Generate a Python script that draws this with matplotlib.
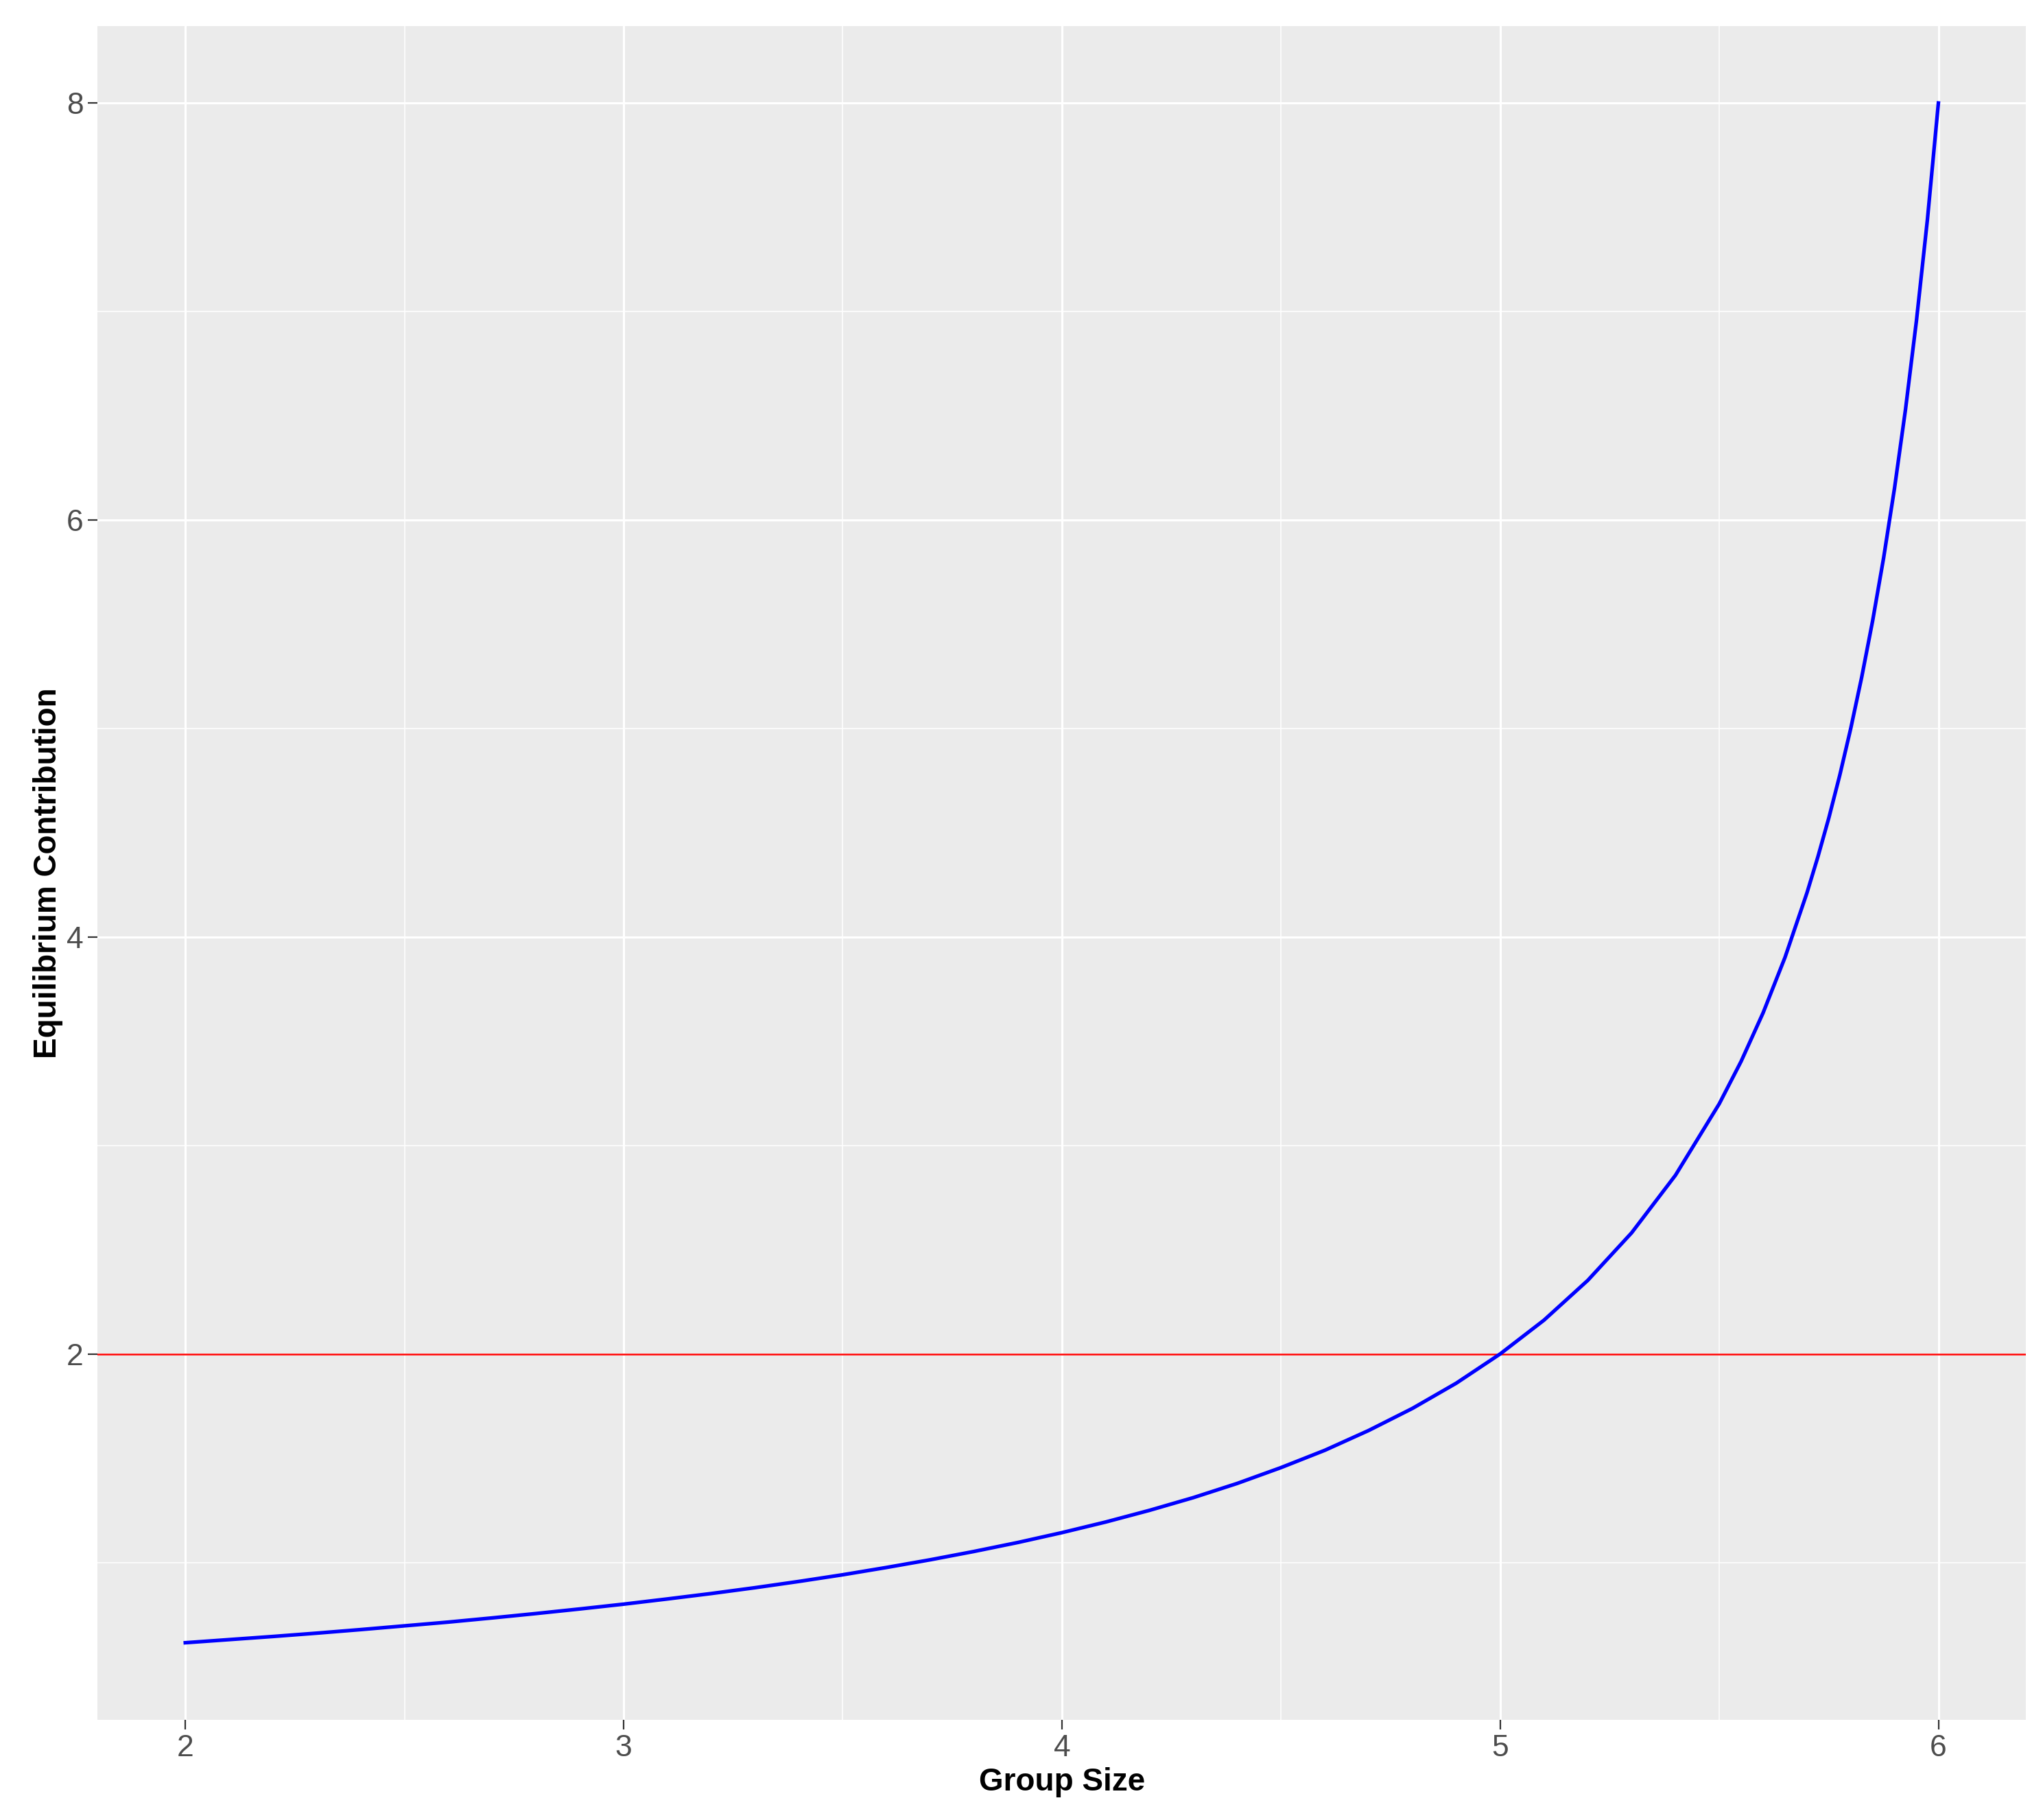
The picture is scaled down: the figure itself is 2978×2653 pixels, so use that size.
import matplotlib.pyplot as plt
from matplotlib.ticker import MultipleLocator

plt.rcParams['font.family'] = ['Liberation Sans', 'DejaVu Sans']

# Group size and equilibrium contribution
group_size = [2.0, 2.1, 2.2, 2.3, 2.4, 2.5, 2.6, 2.7, 2.8, 2.9,
              3.0, 3.1, 3.2, 3.3, 3.4, 3.5, 3.6, 3.7, 3.8, 3.9,
              4.0, 4.1, 4.2, 4.3, 4.4, 4.5, 4.6, 4.7, 4.8, 4.9,
              5.0, 5.1, 5.2, 5.3, 5.4, 5.5, 5.55, 5.6, 5.65, 5.7,
              5.725, 5.75, 5.775, 5.8, 5.825, 5.85, 5.875, 5.9,
              5.925, 5.95, 5.975, 6.0]
contribution = [0.615, 0.630, 0.645, 0.661, 0.678, 0.696, 0.714, 0.734, 0.755, 0.777,
                0.800, 0.825, 0.851, 0.879, 0.909, 0.941, 0.976, 1.013, 1.053, 1.096,
                1.143, 1.194, 1.250, 1.311, 1.379, 1.455, 1.538, 1.633, 1.739, 1.860,
                2.000, 2.162, 2.353, 2.581, 2.857, 3.200, 3.404, 3.636, 3.902, 4.211,
                4.384, 4.571, 4.776, 5.000, 5.246, 5.517, 5.818, 6.154,
                6.531, 6.957, 7.442, 8.000]
threshold = 2

fig = plt.figure(figsize=(29.78, 26.53), dpi=100)
ax = fig.add_axes([0.0478, 0.0551, 0.9439, 0.9306])
ax.set_facecolor('#EBEBEB')
for s in ax.spines.values():
    s.set_visible(False)

ax.xaxis.set_major_locator(MultipleLocator(1))
ax.xaxis.set_minor_locator(MultipleLocator(0.5))
ax.yaxis.set_major_locator(MultipleLocator(2))
ax.yaxis.set_minor_locator(MultipleLocator(1))
ax.grid(which='major', color='white', linewidth=2.3)
ax.grid(which='minor', color='white', linewidth=1.1)
ax.set_axisbelow(True)

ax.axhline(threshold, color='#FF0000', linewidth=1.8)
ax.plot(group_size, contribution, color='#0000FF', linewidth=3.8)

ymin, ymax = min(contribution), max(contribution)
pad = 0.05 * (ymax - ymin)
ax.set_xlim(1.8, 6.2)
ax.set_ylim(ymin - pad, ymax + pad)

ax.tick_params(which='major', length=10, width=1.6, color='#333333',
               labelsize=32, labelcolor='#4D4D4D', pad=5)
ax.tick_params(which='minor', length=0)

ax.set_xlabel('Group Size', fontsize=33, fontweight='bold', color='black')
ax.set_ylabel('Equilibrium Contribution', fontsize=33, fontweight='bold', color='black')
ax.xaxis.set_label_coords(0.5, -0.037)
ax.yaxis.set_label_coords(-0.0257, 0.5)
ax.xaxis.label.set_va('center')
ax.yaxis.label.set_va('center')

fig.savefig('out.png', dpi=100, facecolor='white')
